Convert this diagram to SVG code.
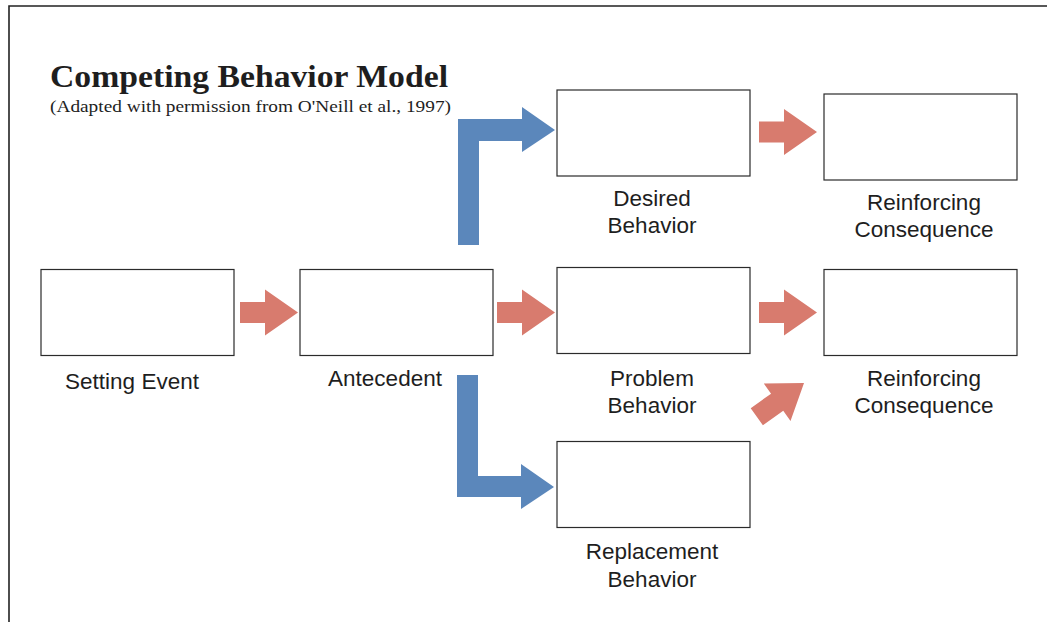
<svg xmlns="http://www.w3.org/2000/svg" xmlns:xlink="http://www.w3.org/1999/xlink" width="1047" height="622" viewBox="0 0 1047 622">
<style>
.box{fill:#fff;stroke:#2b2b2b;stroke-width:1.2}
.lbl{font-family:"Liberation Sans",Arial,sans-serif;font-size:22.5px;fill:#1e1e1e;text-anchor:middle}
.red{fill:#d87b6e}
.blue{fill:#5b87bb}
</style>
<defs>
<path id="arr" d="M0,-10.5 H25 V-23 L58,0 L25,23 V10.5 H0 Z"/>
</defs>
<rect x="0" y="0" width="1047" height="622" fill="#fff"/>
<path d="M9,622 V6 H1047" fill="none" stroke="#222" stroke-width="1.6"/>
<g id="title">
<text x="50" y="87" font-family="'Liberation Serif','Times New Roman',serif" font-weight="bold" font-size="31" fill="#1e1e1e" textLength="398" lengthAdjust="spacingAndGlyphs">Competing Behavior Model</text>
<text x="50" y="112" font-family="'Liberation Serif','Times New Roman',serif" font-size="17" fill="#1e1e1e" textLength="401" lengthAdjust="spacingAndGlyphs">(Adapted with permission from O'Neill et al., 1997)</text>
</g>
<g id="connectors">
<use xlink:href="#arr" class="red" transform="translate(240,312.5)"/>
<use xlink:href="#arr" class="red" transform="translate(497,312.5)"/>
<use xlink:href="#arr" class="red" transform="translate(759,312.5)"/>
<use xlink:href="#arr" class="red" transform="translate(759,132)"/>
<use xlink:href="#arr" class="red" transform="translate(756.8,416.7) rotate(-35.5)"/>
<polygon class="blue" points="458,245 458,119 522,119 522,107 555,130 522,152 522,141 479,141 479,245"/>
<polygon class="blue" points="457,375 478,375 478,476 521,476 521,464 554,487 521,509 521,497 457,497"/>
</g>
<g id="setting-event">
<rect class="box" x="41" y="269.5" width="193" height="86"/>
<text class="lbl" x="132" y="389">Setting Event</text>
</g>
<g id="antecedent">
<rect class="box" x="300" y="269.5" width="193" height="86"/>
<text class="lbl" x="385" y="386">Antecedent</text>
</g>
<g id="desired-behavior">
<rect class="box" x="557" y="90" width="193" height="86"/>
<text class="lbl" x="652" y="206">Desired</text>
<text class="lbl" x="652" y="233">Behavior</text>
</g>
<g id="reinforcing-consequence-top">
<rect class="box" x="824" y="94" width="193" height="86"/>
<text class="lbl" x="924" y="210">Reinforcing</text>
<text class="lbl" x="924" y="237">Consequence</text>
</g>
<g id="problem-behavior">
<rect class="box" x="557" y="267.5" width="193" height="86"/>
<text class="lbl" x="652" y="386">Problem</text>
<text class="lbl" x="652" y="413">Behavior</text>
</g>
<g id="reinforcing-consequence-mid">
<rect class="box" x="824" y="269.5" width="193" height="86"/>
<text class="lbl" x="924" y="386">Reinforcing</text>
<text class="lbl" x="924" y="413">Consequence</text>
</g>
<g id="replacement-behavior">
<rect class="box" x="557" y="441.5" width="193" height="86"/>
<text class="lbl" x="652" y="559">Replacement</text>
<text class="lbl" x="652" y="587">Behavior</text>
</g>
</svg>
